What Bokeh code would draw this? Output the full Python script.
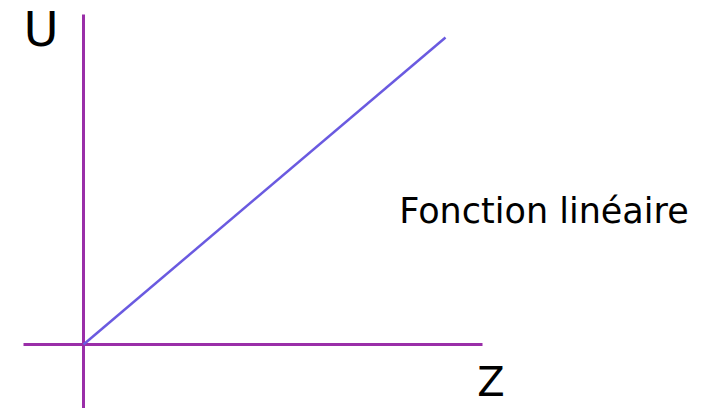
from bokeh.plotting import figure
from bokeh.models import Range1d
from bokeh.embed import file_html
from bokeh.resources import INLINE
from bokeh.core.properties import value

# Data (schematic linear function U = k * Z)
z_values = [0, 362]
u_values = [0, 307]

# Axis extents (schematic)
z_axis = [-60, 399]
u_axis = [-70, 330]

axis_labels = ["Z", "U"]
title_text = "Fonction linéaire"

W, H = 722, 408
p = figure(width=W, height=H, output_backend="svg", toolbar_location=None,
           x_range=Range1d(-83, W - 83), y_range=Range1d(-64, H - 64),
           min_border=0, min_border_left=0, min_border_right=0,
           min_border_top=0, min_border_bottom=0)
p.axis.visible = False
p.grid.visible = False
p.outline_line_color = None
p.background_fill_color = "white"
p.border_fill_color = "white"

axis_color = "#9a2ea8"
line_color = "#6a5ae0"

# horizontal axis
p.line(x=z_axis, y=[0, 0], line_color=axis_color, line_width=3)
# vertical axis
p.line(x=[0, 0], y=u_axis, line_color=axis_color, line_width=3)
# linear function
p.line(x=z_values, y=u_values, line_color=line_color, line_width=2.5)

font = value("DejaVu Sans")
p.text(x=[407.5], y=[-37], text=[axis_labels[0]], text_font=font,
       text_font_size="40px", text_align="center", text_baseline="middle",
       text_color="black")
p.text(x=[-42.5], y=[316], text=[axis_labels[1]], text_font=font,
       text_font_size="48px", text_align="center", text_baseline="middle",
       text_color="black")
p.text(x=[460.5], y=[134], text=[title_text], text_font=font,
       text_font_size="35px", text_align="center", text_baseline="middle",
       text_color="black")

open("out.html", "w").write(file_html(p, INLINE))
